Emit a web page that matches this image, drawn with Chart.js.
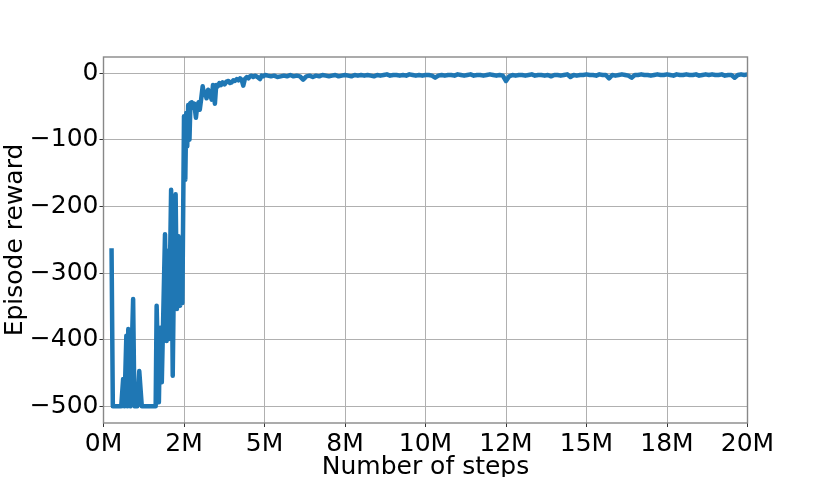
<!DOCTYPE html>
<html><head><meta charset="utf-8">
<script src="https://cdn.jsdelivr.net/npm/chart.js@4.4.1/dist/chart.umd.min.js"></script>
<style>html,body{margin:0;padding:0;background:#fff;overflow:hidden}#wrap{width:831px;height:477px}</style>
</head><body><div id="wrap"><canvas id="c" width="831" height="477"></canvas></div>
<script>
// steps in millions
const stepsEarly = [0.25,0.29,0.40,0.55,0.61,0.65,0.71,0.74,0.77,0.80,0.83,0.92,0.96,1.05,1.11,1.19,1.40,1.62,1.65,1.72,1.76,1.81,1.91,1.96,1.99,2.03,2.10,2.15,2.20,2.24,2.28,2.33,2.38,2.42,2.45];
const rewardsEarly = [-263,-500,-500,-500,-459,-500,-394,-500,-384,-386,-500,-339,-500,-500,-447,-500,-500,-500,-349,-494,-382,-464,-242,-402,-267,-399,-175,-454,-250,-182,-354,-245,-349,-260,-345];

const stepsRise = [2.50,2.54,2.57,2.60,2.63,2.67,2.70,2.74,2.78,2.82,2.87,2.91,2.95,2.99,3.03,3.08,3.12,3.16,3.20,3.25,3.30,3.36,3.40,3.46,3.50,3.55,3.60,3.65,3.70,3.76,3.82,3.88,3.93,3.98,4.03,4.08,4.14,4.19,4.24,4.29,4.34,4.39,4.45,4.50,4.55,4.60,4.65,4.70,4.75,4.81,4.86,4.91,4.96,5.02];
const rewardsRise = [-65,-160,-60,-110,-48,-100,-45,-44,-52,-46,-67,-50,-44,-55,-40,-20,-33,-28,-38,-25,-30,-40,-18,-46,-18,-20,-15,-18,-14,-17,-13,-12,-15,-14,-11,-12,-9,-11,-8,-10,-19,-9,-6,-8,-5,-4,-6,-4,-5,-7,-9,-4,-5,-3];

const stepsLate = [
 5.1,5.2,5.3,5.4,5.5,5.6,5.7,5.8,5.9,6.0,
 6.1,6.2,6.3,6.4,6.5,6.6,6.7,6.8,6.9,7.0,
 7.1,7.2,7.3,7.4,7.5,7.6,7.7,7.8,7.9,8.0,
 8.1,8.2,8.3,8.4,8.5,8.6,8.7,8.8,8.9,9.0,
 9.1,9.2,9.3,9.4,9.5,9.6,9.7,9.8,9.9,10.0,
 10.1,10.2,10.3,10.4,10.5,10.6,10.7,10.8,10.9,11.0,
 11.1,11.2,11.3,11.4,11.5,11.6,11.7,11.8,11.9,12.0,
 12.1,12.2,12.3,12.4,12.5,12.6,12.7,12.8,12.9,13.0,
 13.1,13.2,13.3,13.4,13.5,13.6,13.7,13.8,13.9,14.0,
 14.1,14.2,14.3,14.4,14.5,14.6,14.7,14.8,14.9,15.0,
 15.1,15.2,15.3,15.4,15.5,15.6,15.7,15.8,15.9,16.0,
 16.1,16.2,16.3,16.4,16.5,16.6,16.7,16.8,16.9,17.0,
 17.1,17.2,17.3,17.4,17.5,17.6,17.7,17.8,17.9,18.0,
 18.1,18.2,18.3,18.4,18.5,18.6,18.7,18.8,18.9,19.0,
 19.1,19.2,19.3,19.4,19.5,19.6,19.7,19.8,19.9,20.0];
const rewardsLate = [
 -4,-5,-4,-6,-5,-4,-5,-3,-5,-4,
 -5,-10,-5,-4,-6,-4,-5,-3,-4,-5,
 -4,-3,-5,-4,-3,-4,-5,-3,-4,-3,
 -4,-3,-4,-5,-3,-4,-3,-2,-4,-3,
 -3,-4,-3,-4,-2,-3,-4,-3,-4,-3,
 -3,-4,-7,-4,-3,-4,-3,-3,-4,-2,
 -3,-4,-3,-2,-4,-3,-3,-4,-3,-2,
 -3,-4,-3,-4,-12,-5,-3,-4,-3,-3,
 -4,-3,-2,-4,-3,-3,-4,-3,-5,-3,
 -3,-4,-3,-2,-6,-3,-4,-3,-3,-2,
 -3,-3,-4,-2,-3,-3,-8,-3,-4,-3,
 -2,-3,-4,-7,-3,-3,-2,-3,-3,-4,
 -3,-2,-3,-3,-2,-3,-4,-2,-3,-3,
 -2,-3,-3,-2,-4,-3,-2,-3,-2,-3,
 -3,-2,-4,-3,-3,-7,-3,-2,-3,-2];

const xTickValues = [0,2.5,5,7.5,10,12.5,15,17.5,20];
const xTickLabels = ['0M','2M','5M','8M','10M','12M','15M','18M','20M'];
const yTickValues = [-500,-400,-300,-200,-100,0];
const yTickLabels = ['\u2212500','\u2212400','\u2212300','\u2212200','\u2212100','0'];

const steps = stepsEarly.concat(stepsRise, stepsLate);
const rewards = rewardsEarly.concat(rewardsRise, rewardsLate);
const points = steps.map((s, i) => ({x: s, y: rewards[i]}));

const FONT = {family: 'DejaVu Sans', size: 25};
const frame = {
  id: 'frame',
  afterDatasetsDraw(chart) {
    const {ctx, chartArea: a} = chart;
    ctx.save();
    ctx.strokeStyle = '#888888';
    ctx.lineWidth = 1.4;
    ctx.strokeRect(a.left, a.top, a.right - a.left, a.bottom - a.top);
    ctx.restore();
  }
};

new Chart(document.getElementById('c'), {
  type: 'line',
  data: {datasets: [{data: points, borderColor: '#1f77b4', borderWidth: 4.5, pointRadius: 0,
    tension: 0, borderJoinStyle: 'round', borderCapStyle: 'butt', fill: false}]},
  options: {
    responsive: false, animation: false, devicePixelRatio: 1,
    layout: {padding: {left: 0, right: 83.5, top: 57, bottom: 0}},
    plugins: {legend: {display: false}, tooltip: {enabled: false}},
    scales: {
      x: {type: 'linear', min: 0, max: 20,
        afterFit(s) { s.height = 54; },
        afterBuildTicks(s) { s.ticks = xTickValues.map(v => ({value: v})); },
        ticks: {font: FONT, color: '#000', padding: 2, maxRotation: 0, autoSkip: false,
          callback: (v) => xTickLabels[xTickValues.indexOf(v)]},
        grid: {color: '#b0b0b0', lineWidth: 1, tickLength: 4, tickColor: '#333333'},
        border: {display: false},
        title: {display: true, text: 'Number of steps', font: FONT, color: '#000', padding: {top: 0, bottom: -5}}
      },
      y: {type: 'linear', min: -525, max: 24,
        afterFit(s) { s.width = 103.5; },
        afterBuildTicks(s) { s.ticks = yTickValues.map(v => ({value: v})); },
        ticks: {font: FONT, color: '#000', padding: 1, autoSkip: false,
          callback: (v) => yTickLabels[yTickValues.indexOf(v)]},
        grid: {color: '#b0b0b0', lineWidth: 1, tickLength: 4, tickColor: '#333333'},
        border: {display: false},
        title: {display: true, text: 'Episode reward', font: FONT, color: '#000', padding: {top: 0, bottom: 0}}
      }
    }
  },
  plugins: [frame]
});
</script></body></html>
